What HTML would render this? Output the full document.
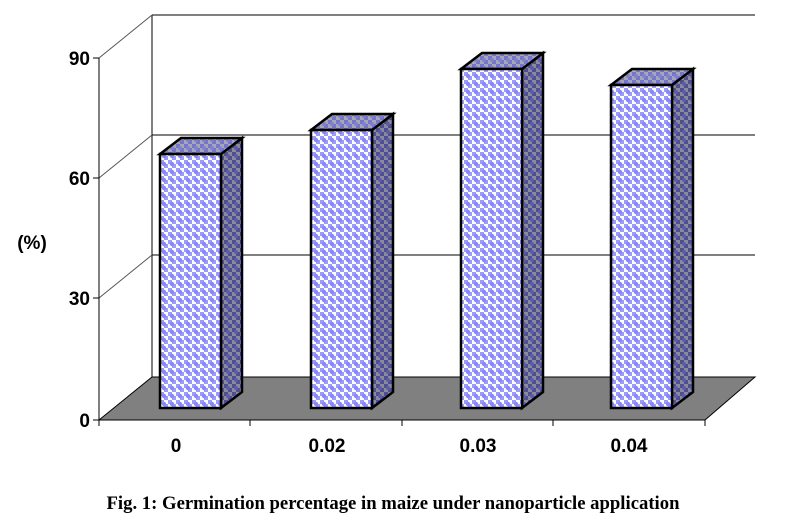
<!DOCTYPE html>
<html><head><style>body{margin:0;background:#fff}svg{display:block}</style></head><body>
<svg width="786" height="529" xmlns="http://www.w3.org/2000/svg" font-family="Liberation Sans, Arial, sans-serif">
<defs>
<pattern id="f" width="8" height="8" patternUnits="userSpaceOnUse">
<rect width="8" height="8" fill="#fff"/><rect width="4" height="4" fill="#9a9aff"/><rect x="4" y="4" width="4" height="4" fill="#9a9aff"/>
<circle cx="4" cy="4" r="2.2" fill="#8888ee"/>
</pattern>
<pattern id="s" width="8" height="8" patternUnits="userSpaceOnUse">
<rect width="8" height="8" fill="#8a8a9a"/><rect width="4" height="4" fill="#4e4e90"/><rect x="4" y="4" width="4" height="4" fill="#4e4e90"/>
<circle cx="4" cy="4" r="2" fill="#5c5ca8"/>
</pattern>
<pattern id="t" width="8" height="8" patternUnits="userSpaceOnUse">
<rect width="8" height="8" fill="#a6a6b8"/><rect width="4" height="4" fill="#7676c8"/><rect x="4" y="4" width="4" height="4" fill="#7676c8"/>
<circle cx="4" cy="4" r="2" fill="#8080d0"/>
</pattern>
</defs>
<g stroke="#000" stroke-width="1" fill="none">
<line x1="152" y1="15" x2="755" y2="15"/><line x1="152" y1="135" x2="755" y2="135"/><line x1="152" y1="255" x2="755" y2="255"/>
<line x1="152" y1="15" x2="152" y2="377"/>
<line x1="99" y1="58" x2="152" y2="15" stroke="#555"/><line x1="99" y1="178" x2="152" y2="135" stroke="#555"/><line x1="99" y1="298" x2="152" y2="255" stroke="#555"/>
</g>
<polygon points="99,420 152,377 755,377 705,420" fill="#808080" stroke="#000"/>
<g stroke="#000" stroke-width="1">
<line x1="99" y1="58" x2="99" y2="420"/>
<line x1="93" y1="58" x2="99" y2="58"/><line x1="93" y1="178" x2="99" y2="178"/><line x1="93" y1="298" x2="99" y2="298"/><line x1="93" y1="420" x2="99" y2="420"/>
<line x1="99" y1="420" x2="705" y2="420"/>
<line x1="99" y1="420" x2="99" y2="426"/><line x1="250" y1="420" x2="250" y2="426"/><line x1="402" y1="420" x2="402" y2="426"/><line x1="553" y1="420" x2="553" y2="426"/><line x1="705" y1="420" x2="705" y2="426"/>
</g>
<g stroke="#000" stroke-width="2.5" stroke-linejoin="miter">
<polygon points="221,154 242,138 242,392 221,408" fill="url(#s)"/>
<polygon points="160,154 181,138 242,138 221,154" fill="url(#t)"/>
<rect x="160" y="154" width="61" height="254" fill="url(#f)"/>
<polygon points="372,130 393,114 393,392 372,408" fill="url(#s)"/>
<polygon points="311,130 332,114 393,114 372,130" fill="url(#t)"/>
<rect x="311" y="130" width="61" height="278" fill="url(#f)"/>
<polygon points="522,69 543,53 543,392 522,408" fill="url(#s)"/>
<polygon points="461,69 482,53 543,53 522,69" fill="url(#t)"/>
<rect x="461" y="69" width="61" height="339" fill="url(#f)"/>
<polygon points="672,85 693,69 693,392 672,408" fill="url(#s)"/>
<polygon points="611,85 632,69 693,69 672,85" fill="url(#t)"/>
<rect x="611" y="85" width="61" height="323" fill="url(#f)"/>
</g>
<g font-size="19" font-weight="bold" text-anchor="end">
<text x="90" y="65">90</text><text x="90" y="185">60</text><text x="90" y="305">30</text><text x="90" y="427">0</text>
</g>
<text x="32" y="249" font-size="19" font-weight="bold" text-anchor="middle">(%)</text>
<g font-size="19" font-weight="bold" text-anchor="middle">
<text x="176" y="452">0</text><text x="327" y="452">0.02</text><text x="478" y="452">0.03</text><text x="629" y="452">0.04</text>
</g>
<text x="393" y="509" font-family="Liberation Serif, serif" font-size="18.5" font-weight="bold" text-anchor="middle" textLength="573" lengthAdjust="spacingAndGlyphs">Fig. 1: Germination percentage in maize under nanoparticle application</text>
</svg>
</body></html>
